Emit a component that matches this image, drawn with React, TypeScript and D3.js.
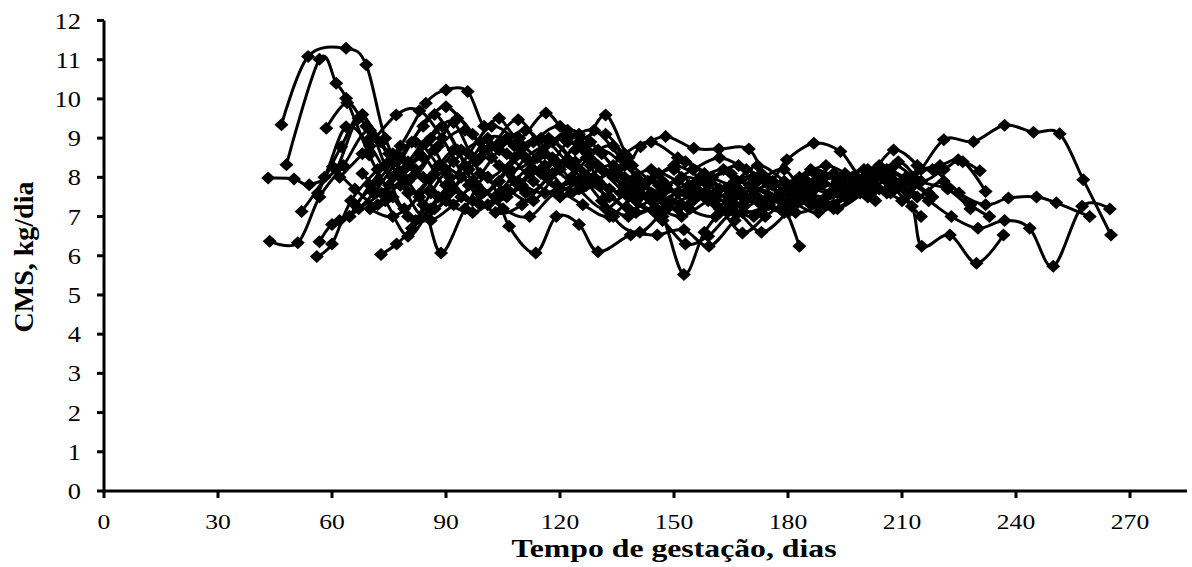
import React from "react";
import * as d3 from "d3";

// Tick labels
const xTicks = [0, 30, 60, 90, 120, 150, 180, 210, 240, 270];
const yTicks = [0, 1, 2, 3, 4, 5, 6, 7, 8, 9, 10, 11, 12];
const xTitle = "Tempo de gestação, dias";
const yTitle = "CMS, kg/dia";

// Each cow: [dia de gestação, CMS kg/dia]
const vaca01: [number, number][] = [[43.6,6.37],[51,6.33],[56.7,7.5],[63,8.3],[70,9.2],[77,8.1],[84,7.0],[91,7.6],[98,8.4],[105,8.9],[112,8.4],[119,7.8],[126,7.9],[133,7.5],[140,7.1],[147,7.4],[154,7.7],[161,7.3],[168,7.5],[175,7.8],[182,7.6],[189,7.4],[196,7.7],[203,8.1],[210,7.8],[217,7.4],[223,7.0],[230,6.7],[237,6.9],[243.6,6.7],[249.8,5.73],[257.4,7.26],[264.7,7.19]];
const vaca02: [number, number][] = [[43.2,7.98],[50,7.96],[54,7.81],[61,8.2],[67,9.5],[73,8.9],[80,7.6],[87,8.1],[94,8.7],[101,8.0],[108,8.5],[115,9.0],[122,8.4],[129,8.0],[136,7.6],[143,7.9],[150,8.2],[157,7.6],[164,7.4],[171,7.7],[178,7.4],[183,6.24]];
const vaca03: [number, number][] = [[46.7,9.34],[53.7,11.08],[63.7,11.29],[69,10.87],[74,9.0],[80,7.9],[87,7.2],[94,8.0],[101,9.0],[108,8.8],[115,8.1],[122,8.9],[129,9.2],[136,8.5],[143,7.9],[150,8.3],[157,8.0],[164,7.7],[171,8.0],[178,7.6],[185,7.8],[192,8.1],[199,7.9],[206,8.2],[213,8.0],[221,8.96],[228.8,8.91],[237,9.33],[244.6,9.15],[251.5,9.11],[257.7,7.94],[265,6.53]];
const vaca04: [number, number][] = [[48,8.32],[56.7,11.01],[61.1,10.4],[63.7,10.02],[69.8,8.57],[76,7.5],[82,6.9],[88,7.5],[95,8.3],[102,8.8],[109,9.47],[116,8.6],[123,7.9],[130,8.3],[137,7.8],[144,7.4],[151,7.6],[158,7.9],[165,8.1],[172,7.5],[179,7.2],[186,7.6],[193,7.9],[200,8.2],[207,7.8],[214,7.5],[221,7.9],[228,7.3],[233,7.0]];
const vaca05: [number, number][] = [[56,5.98],[60,6.3],[65,7.4],[72,8.2],[78,8.8],[84.7,9.89],[90,10.23],[95.7,10.19],[100,9.3],[104,9.51],[109.3,9.0],[116.3,9.64],[122,9.0],[126,8.8],[132,9.59],[138,8.5],[141.2,8.78],[147.8,9.04],[155.2,8.74],[161.8,8.72],[169.7,8.72],[175,7.9],[179.7,8.45],[186.8,8.87],[193.8,8.66],[200,8.0],[207.8,8.7],[214,8.3]];
const vaca06: [number, number][] = [[52,7.13],[58,8.0],[63.7,9.29],[70,8.8],[76,8.0],[83,8.6],[89,9.3],[96,8.2],[103,7.5],[110,7.8],[117,8.9],[124,8.4],[131,7.8],[138,7.2],[145,7.5],[152,8.0],[159,7.8],[166,7.3],[173,7.1],[180,7.7],[187,8.1],[194,7.6],[201,7.8],[208,8.3],[215,7.9],[221,8.2],[226,8.4],[232,7.64]];
const vaca07: [number, number][] = [[56.3,7.6],[62.4,8.78],[68,9.6],[74,8.3],[79,7.2],[86,8.0],[92,8.7],[99,8.5],[106,9.0],[113,8.2],[120,7.7],[127,8.0],[134,8.3],[141,7.6],[148,7.2],[155,7.4],[162,7.7],[169,7.5],[176,7.9],[183,7.7],[190,7.5],[197,7.9],[204,8.3],[211,8.0],[218,8.2],[225,7.6],[232,7.3],[238,7.47],[245.4,7.5],[250.6,7.35],[259.4,7.0]];
const vaca08: [number, number][] = [[56.7,6.36],[60,6.8],[64.6,7.0],[71,7.6],[77,8.4],[84,9.3],[90,9.8],[97,9.1],[104,8.3],[111,7.6],[118,8.1],[125,8.9],[132,9.1],[139,8.3],[146,7.8],[153,7.6],[160,8.0],[167,8.3],[174,7.9],[181,7.4],[188,7.1],[195,7.5],[202,7.9],[209,8.4],[215,7.9],[222,7.7],[228,7.2]];
const vaca09: [number, number][] = [[72.9,6.03],[77,6.3],[81,6.7],[86,7.6],[92,8.4],[99,8.9],[106,8.6],[113,7.9],[120,7.5],[127,7.8],[134,8.1],[141,7.7],[147,7.0],[152.6,5.52],[158,6.6],[164,7.2],[171,7.0],[178,7.6],[185,7.9],[192,7.6],[199,7.8],[206,8.0],[212.6,7.26],[215.2,6.24],[222.6,6.53],[229.6,5.81],[236.7,6.53]];
const vaca10: [number, number][] = [[60.2,8.27],[66,7.7],[72,7.3],[78,7.8],[84,7.3],[88.7,6.07],[95,7.2],[101,8.0],[106.6,6.75],[113.6,6.07],[119,7.0],[125,6.8],[130,6.1],[138.6,6.53],[145.6,6.53],[152.6,6.66],[159.2,6.24],[166,6.9],[172,7.4],[178,7.2],[184,7.5],[190,7.3]];
const vaca11: [number, number][] = [[58.5,9.25],[64,9.9],[69,9.3],[75,8.6],[81,8.0],[87,8.7],[93,9.5],[100,8.7],[107,8.2],[114,8.5],[121,9.0],[128,8.3],[134,7.0],[141,6.6],[148,7.2],[155,7.5],[162,7.2],[168,6.58],[174,7.0],[180,7.4],[187,7.7],[194,7.9],[201,8.2],[208,7.7],[215,7.0]];
const vaca12: [number, number][] = [[62,8.0],[68,8.6],[76.9,9.59],[83,9.7],[89,9.0],[96,7.8],[103,7.1],[110,7.3],[117,8.0],[124,8.7],[131,8.2],[138,7.5],[145,7.1],[152,7.3],[159,7.6],[166,7.9],[173,8.1],[180,7.8],[186,8.2],[193,8.0],[200,7.7],[207,8.1],[213,7.8],[218,7.5]];
const vaca13: [number, number][] = [[66,7.3],[72,7.9],[78,8.5],[84,8.0],[90,7.4],[97,7.1],[104,7.6],[111,8.5],[118,8.9],[125,9.1],[131,8.6],[137,8.0],[144,8.2],[151,7.9],[158,7.6],[165,7.8],[172,7.4],[179,7.1],[186,7.4],[193,7.2],[200,7.6],[206,7.9],[212,7.6]];
const vaca14: [number, number][] = [[70,7.2],[76,7.0],[83,7.5],[90,8.2],[97,7.9],[104,8.7],[111,9.2],[118,8.5],[125,7.7],[132,7.2],[139,7.8],[146,8.1],[153,8.4],[160,8.0],[167,7.7],[174,7.3],[181,7.2],[188,7.8],[195,8.1],[202,7.6],[208,7.9],[215,8.2],[220,8.3],[224.8,8.45],[230.5,8.17]];
const vaca15: [number, number][] = [[75,7.8],[81,8.9],[87,9.6],[93,8.7],[99,7.6],[106,8.2],[113,8.9],[120,9.3],[127,8.7],[134,8.0],[141,7.5],[148,7.8],[155,8.2],[162,8.5],[169,8.2],[176,7.8],[183,8.0],[190,8.3],[197,8.0],[204,7.7],[211,7.9],[217,7.6]];
const vaca16: [number, number][] = [[80,7.0],[86,6.9],[92,7.3],[98,7.8],[105,7.2],[112,7.0],[119,7.6],[126,7.3],[133,7.0],[140,7.6],[147,7.9],[154,7.2],[161,7.0],[168,7.3],[175,7.5],[182,7.1],[189,7.3],[196,7.5],[203,7.7],[210,7.4]];
const vaca17: [number, number][] = [[68,8.1],[74,7.4],[80,6.5],[86,7.2],[92,7.7],[99,7.3],[106,7.5],[112,8.1],[119,8.4],[126,8.0],[133,7.7],[140,7.4],[147,6.9],[153,6.3],[159,6.5],[166,7.1],[173,6.6],[180,7.1],[186,7.5],[192,7.2],[199,7.6],[205,8.0],[212,7.6]];
const vaca18: [number, number][] = [[64.6,7.0],[70,7.8],[75,8.4],[82,8.9],[88,8.3],[94,7.5],[101,7.3],[108,7.9],[115,8.6],[122,9.2],[128,8.9],[135,8.2],[142,7.8],[149,7.4],[156,7.9],[163,8.2],[170,7.8],[177,7.5],[184,7.8],[191,7.6],[198,8.0],[204,8.2]];
const vaca19: [number, number][] = [[70,9.0],[76,8.6],[82,8.2],[88,8.8],[95,9.2],[102,8.5],[109,7.9],[116,7.6],[123,8.0],[130,8.7],[137,8.3],[144,7.6],[151,7.2],[158,7.5],[165,7.8],[172,8.3],[179,7.9],[186,7.3],[193,7.6],[200,7.9],[207,7.6]];
const vaca20: [number, number][] = [[62,6.9],[67,7.2],[73,7.6],[79,8.2],[85,8.9],[91,8.0],[97,7.4],[104,7.9],[110,8.8],[117,9.0],[124,8.3],[131,7.4],[138,7.0],[145,7.2],[152,7.0],[159,7.4],[166,7.6],[173,7.3],[180,7.6],[187,7.9],[194,7.7],[201,7.5]];
const vaca21: [number, number][] = [[78,8.0],[84,8.5],[90,7.8],[96,8.6],[102,9.3],[109,8.9],[116,8.3],[123,7.6],[130,7.9],[137,8.6],[144,8.9],[151,8.5],[158,8.1],[165,7.6],[172,7.9],[179,8.2],[185,7.5],[192,7.3],[199,7.7],[206,7.6]];
const vaca22: [number, number][] = [[74,7.6],[80,8.4],[86,9.0],[92,9.4],[99,8.1],[106,7.7],[113,7.4],[120,8.2],[127,8.5],[134,8.8],[140,8.0],[147,7.6],[154,7.8],[161,7.5],[168,7.1],[175,7.3],[182,7.7],[189,8.0],[196,7.8],[203,7.4]];

const allCows = [vaca01, vaca02, vaca03, vaca04, vaca05, vaca06, vaca07, vaca08, vaca09, vaca10, vaca11, vaca12, vaca13, vaca14, vaca15, vaca16, vaca17, vaca18, vaca19, vaca20, vaca21, vaca22];

export default function App() {
  const W = 1192, H = 567;
  const x = d3.scaleLinear().domain([0, 285]).range([104, 1187]);
  const y = d3.scaleLinear().domain([0, 12]).range([491, 20.5]);
  const line = d3.line<[number, number]>()
    .x(d => x(d[0]))
    .y(d => y(d[1]))
    .curve(d3.curveCardinal.tension(0));
  const hw = 7, hh = 6.5;
  const diamond = `M0,${-hh}L${hw},0L0,${hh}L${-hw},0Z`;
  const font = "'Liberation Serif', 'Times New Roman', serif";

  return (
    <svg width={W} height={H} style={{ position: "absolute", left: 0, top: 0, background: "#fff" }}>
      <rect x={0} y={0} width={W} height={H} fill="#fff" />
      {/* axes */}
      <line x1={x(0)} x2={x(0)} y1={y(12)} y2={y(0) + 1.5} stroke="#000" strokeWidth={3} />
      <line x1={x(0) - 1.5} x2={x(285)} y1={y(0)} y2={y(0)} stroke="#000" strokeWidth={3} />
      {yTicks.map(t => (
        <g key={"yt" + t}>
          <line x1={x(0) - 7} x2={x(0)} y1={y(t)} y2={y(t)} stroke="#000" strokeWidth={3} />
          <text transform={`translate(81,${y(t) + 8}) scale(1.15,1)`} textAnchor="end" fontFamily={font} fontSize={23} fill="#000">{t}</text>
        </g>
      ))}
      {xTicks.map(t => (
        <g key={"xt" + t}>
          <line x1={x(t)} x2={x(t)} y1={y(0)} y2={y(0) + 7} stroke="#000" strokeWidth={3} />
          <text transform={`translate(${x(t)},529) scale(1.22,1)`} textAnchor="middle" fontFamily={font} fontSize={21} fill="#000">{t}</text>
        </g>
      ))}
      <text transform="translate(674,557) scale(1.27,1)" textAnchor="middle" fontFamily={font} fontWeight="bold" fontSize={25} fill="#000">{xTitle}</text>
      <text transform="translate(33,257) rotate(-90)" textAnchor="middle" fontFamily={font} fontWeight="bold" fontSize={28} fill="#000">{yTitle}</text>
      {/* series */}
      {allCows.map((cow, i) => (
        <g key={"cow" + i}>
          <path d={line(cow) || ""} fill="none" stroke="#000" strokeWidth={3} />
          {cow.map((p, j) => (
            <path key={j} d={diamond} transform={`translate(${x(p[0])},${y(p[1])})`} fill="#000" />
          ))}
        </g>
      ))}
    </svg>
  );
}
